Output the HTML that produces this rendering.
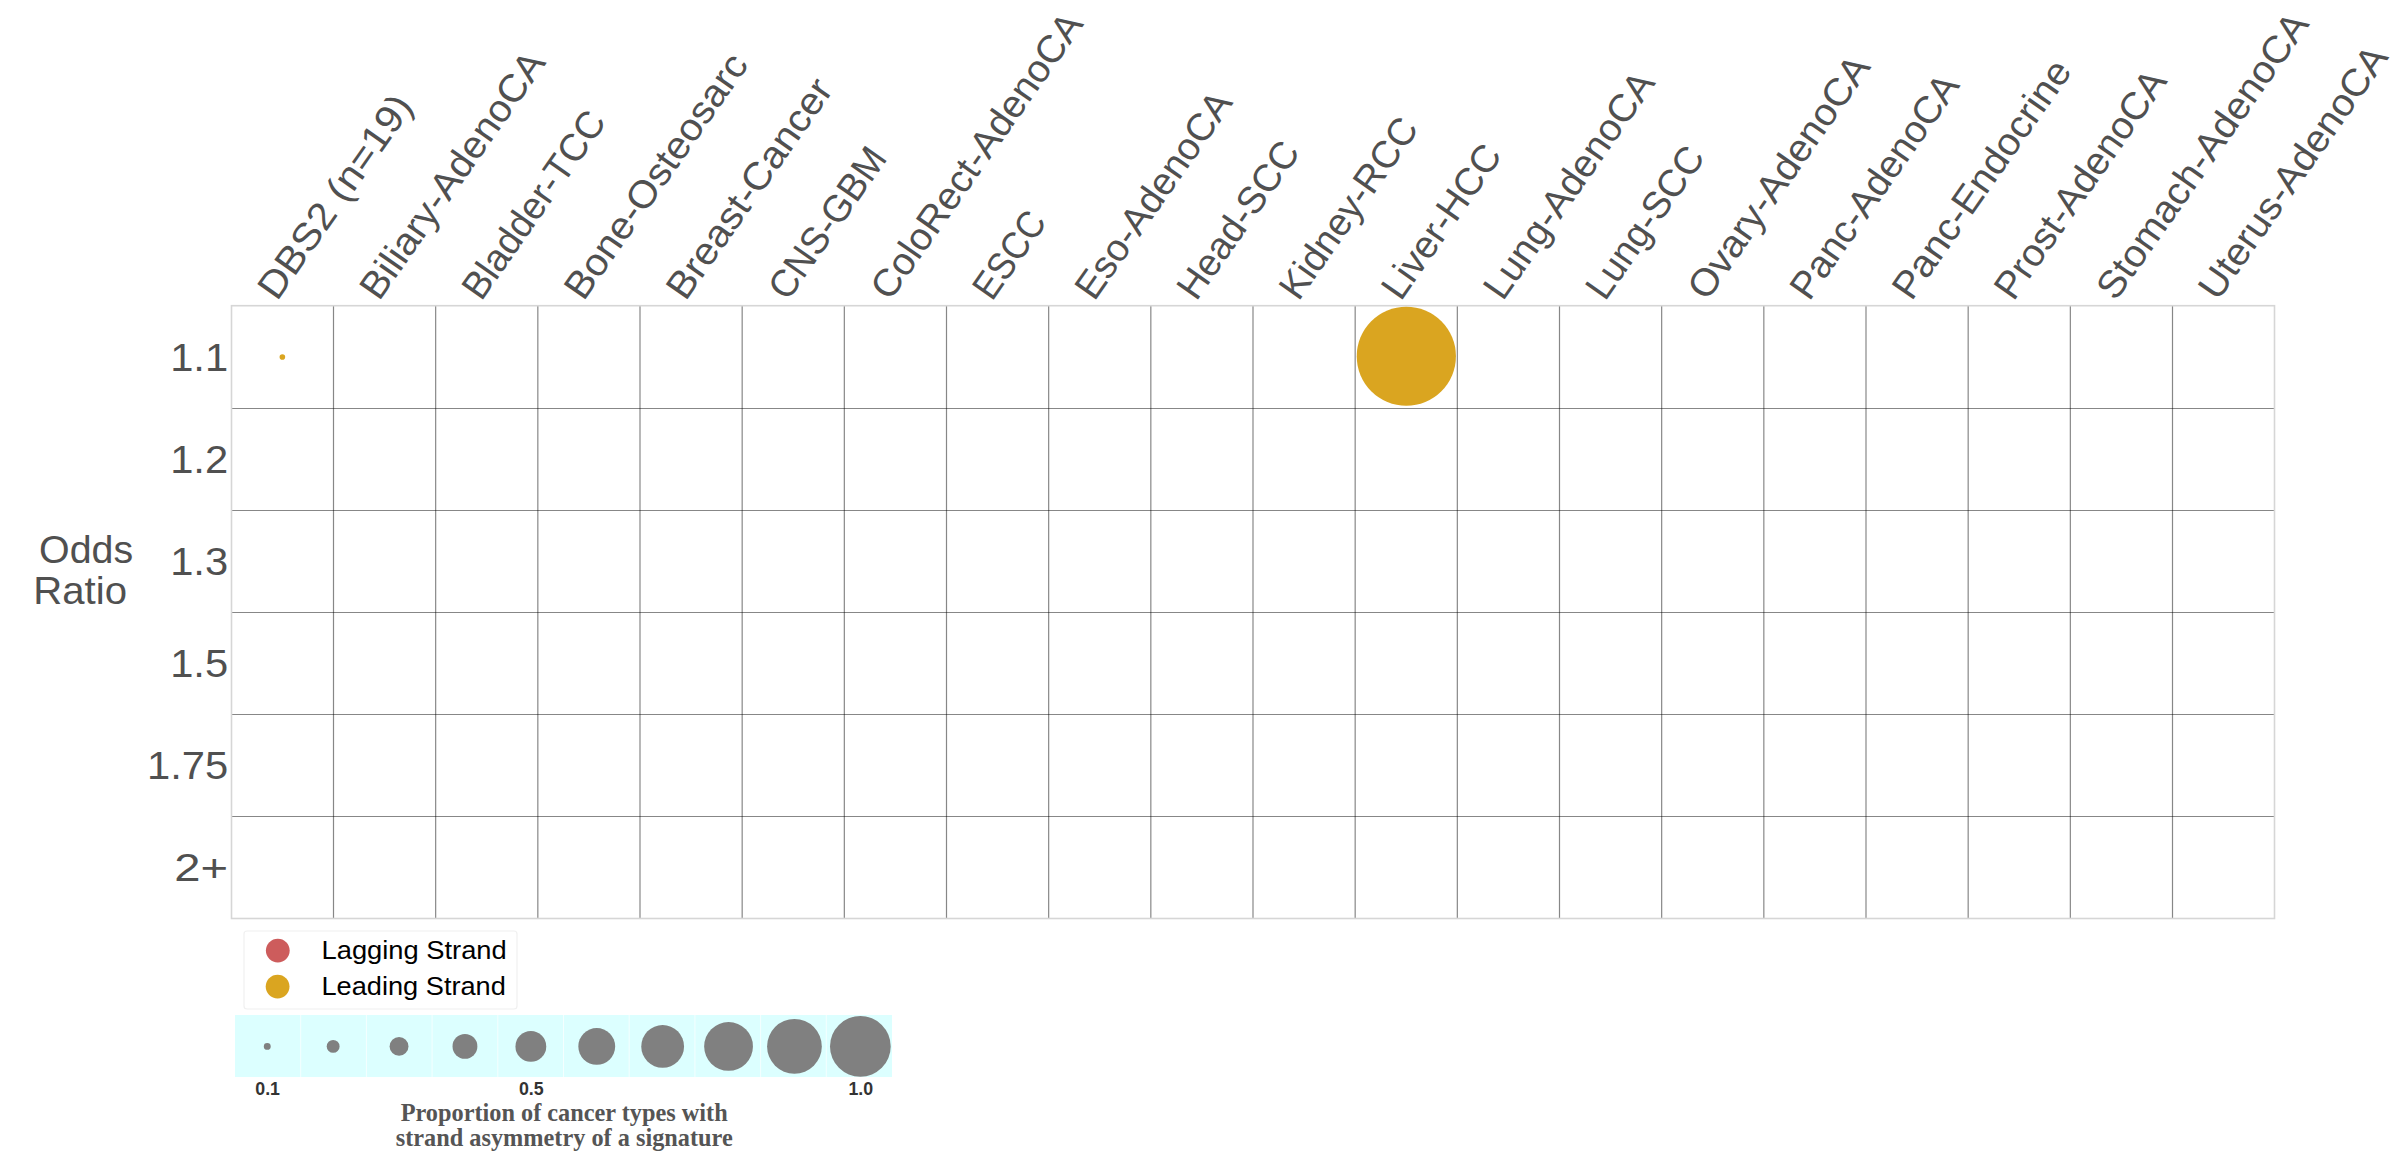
<!DOCTYPE html>
<html><head><meta charset="utf-8"><style>
html,body{margin:0;padding:0;background:#fff;width:2400px;height:1156px;overflow:hidden}
svg{display:block}
</style></head><body>
<svg width="2400" height="1156" viewBox="0 0 2400 1156">
<rect width="2400" height="1156" fill="#ffffff"/>
<g stroke="rgba(0,0,0,0.47)" stroke-width="1.2"><line x1="333.50" y1="305.5" x2="333.50" y2="918.0999999999999"/><line x1="435.66" y1="305.5" x2="435.66" y2="918.0999999999999"/><line x1="537.83" y1="305.5" x2="537.83" y2="918.0999999999999"/><line x1="640.00" y1="305.5" x2="640.00" y2="918.0999999999999"/><line x1="742.17" y1="305.5" x2="742.17" y2="918.0999999999999"/><line x1="844.33" y1="305.5" x2="844.33" y2="918.0999999999999"/><line x1="946.50" y1="305.5" x2="946.50" y2="918.0999999999999"/><line x1="1048.67" y1="305.5" x2="1048.67" y2="918.0999999999999"/><line x1="1150.83" y1="305.5" x2="1150.83" y2="918.0999999999999"/><line x1="1253.00" y1="305.5" x2="1253.00" y2="918.0999999999999"/><line x1="1355.17" y1="305.5" x2="1355.17" y2="918.0999999999999"/><line x1="1457.33" y1="305.5" x2="1457.33" y2="918.0999999999999"/><line x1="1559.50" y1="305.5" x2="1559.50" y2="918.0999999999999"/><line x1="1661.67" y1="305.5" x2="1661.67" y2="918.0999999999999"/><line x1="1763.84" y1="305.5" x2="1763.84" y2="918.0999999999999"/><line x1="1866.00" y1="305.5" x2="1866.00" y2="918.0999999999999"/><line x1="1968.17" y1="305.5" x2="1968.17" y2="918.0999999999999"/><line x1="2070.34" y1="305.5" x2="2070.34" y2="918.0999999999999"/><line x1="2172.50" y1="305.5" x2="2172.50" y2="918.0999999999999"/><line x1="231.0" y1="408.5" x2="2274.0" y2="408.5"/><line x1="231.0" y1="510.5" x2="2274.0" y2="510.5"/><line x1="231.0" y1="612.5" x2="2274.0" y2="612.5"/><line x1="231.0" y1="714.5" x2="2274.0" y2="714.5"/><line x1="231.0" y1="816.5" x2="2274.0" y2="816.5"/></g>
<rect x="231.5" y="305.7" width="2043" height="612.8" fill="none" stroke="#d6d6d6" stroke-width="1.6"/>
<circle cx="282.38" cy="356.95" r="2.8" fill="#daa520"/>
<circle cx="1406.33" cy="356.25" r="49.6" fill="#daa520"/>
<text x="276.97" y="302.00" font-family='"Liberation Sans", sans-serif' font-size="38.33" font-weight="normal" fill="#505050" text-anchor="start" textLength="239.14" lengthAdjust="spacingAndGlyphs" transform="rotate(-55.000 276.97 302.00)">DBS2 (n=19)</text>
<text x="379.12" y="302.00" font-family='"Liberation Sans", sans-serif' font-size="38.33" font-weight="normal" fill="#505050" text-anchor="start" textLength="292.04" lengthAdjust="spacingAndGlyphs" transform="rotate(-55.000 379.12 302.00)">Biliary-AdenoCA</text>
<text x="481.27" y="302.00" font-family='"Liberation Sans", sans-serif' font-size="38.33" font-weight="normal" fill="#505050" text-anchor="start" textLength="219.97" lengthAdjust="spacingAndGlyphs" transform="rotate(-55.000 481.27 302.00)">Bladder-TCC</text>
<text x="583.43" y="302.00" font-family='"Liberation Sans", sans-serif' font-size="38.33" font-weight="normal" fill="#505050" text-anchor="start" textLength="289.65" lengthAdjust="spacingAndGlyphs" transform="rotate(-55.000 583.43 302.00)">Bone-Osteosarc</text>
<text x="685.57" y="302.00" font-family='"Liberation Sans", sans-serif' font-size="38.33" font-weight="normal" fill="#505050" text-anchor="start" textLength="259.09" lengthAdjust="spacingAndGlyphs" transform="rotate(-55.000 685.57 302.00)">Breast-Cancer</text>
<text x="787.73" y="302.00" font-family='"Liberation Sans", sans-serif' font-size="38.33" font-weight="normal" fill="#505050" text-anchor="start" textLength="175.29" lengthAdjust="spacingAndGlyphs" transform="rotate(-55.000 787.73 302.00)">CNS-GBM</text>
<text x="889.88" y="302.00" font-family='"Liberation Sans", sans-serif' font-size="38.33" font-weight="normal" fill="#505050" text-anchor="start" textLength="339.09" lengthAdjust="spacingAndGlyphs" transform="rotate(-55.000 889.88 302.00)">ColoRect-AdenoCA</text>
<text x="992.02" y="302.00" font-family='"Liberation Sans", sans-serif' font-size="38.33" font-weight="normal" fill="#505050" text-anchor="start" textLength="97.21" lengthAdjust="spacingAndGlyphs" transform="rotate(-55.000 992.02 302.00)">ESCC</text>
<text x="1094.18" y="302.00" font-family='"Liberation Sans", sans-serif' font-size="38.33" font-weight="normal" fill="#505050" text-anchor="start" textLength="243.33" lengthAdjust="spacingAndGlyphs" transform="rotate(-55.000 1094.18 302.00)">Eso-AdenoCA</text>
<text x="1196.33" y="302.00" font-family='"Liberation Sans", sans-serif' font-size="38.33" font-weight="normal" fill="#505050" text-anchor="start" textLength="182.75" lengthAdjust="spacingAndGlyphs" transform="rotate(-55.000 1196.33 302.00)">Head-SCC</text>
<text x="1298.48" y="302.00" font-family='"Liberation Sans", sans-serif' font-size="38.33" font-weight="normal" fill="#505050" text-anchor="start" textLength="211.49" lengthAdjust="spacingAndGlyphs" transform="rotate(-55.000 1298.48 302.00)">Kidney-RCC</text>
<text x="1400.63" y="302.00" font-family='"Liberation Sans", sans-serif' font-size="38.33" font-weight="normal" fill="#505050" text-anchor="start" textLength="178.80" lengthAdjust="spacingAndGlyphs" transform="rotate(-55.000 1400.63 302.00)">Liver-HCC</text>
<text x="1502.78" y="302.00" font-family='"Liberation Sans", sans-serif' font-size="38.33" font-weight="normal" fill="#505050" text-anchor="start" textLength="267.37" lengthAdjust="spacingAndGlyphs" transform="rotate(-55.000 1502.78 302.00)">Lung-AdenoCA</text>
<text x="1604.93" y="302.00" font-family='"Liberation Sans", sans-serif' font-size="38.33" font-weight="normal" fill="#505050" text-anchor="start" textLength="176.45" lengthAdjust="spacingAndGlyphs" transform="rotate(-55.000 1604.93 302.00)">Lung-SCC</text>
<text x="1707.08" y="302.00" font-family='"Liberation Sans", sans-serif' font-size="38.33" font-weight="normal" fill="#505050" text-anchor="start" textLength="286.91" lengthAdjust="spacingAndGlyphs" transform="rotate(-55.000 1707.08 302.00)">Ovary-AdenoCA</text>
<text x="1809.23" y="302.00" font-family='"Liberation Sans", sans-serif' font-size="38.33" font-weight="normal" fill="#505050" text-anchor="start" textLength="264.19" lengthAdjust="spacingAndGlyphs" transform="rotate(-55.000 1809.23 302.00)">Panc-AdenoCA</text>
<text x="1911.38" y="302.00" font-family='"Liberation Sans", sans-serif' font-size="38.33" font-weight="normal" fill="#505050" text-anchor="start" textLength="281.62" lengthAdjust="spacingAndGlyphs" transform="rotate(-55.000 1911.38 302.00)">Panc-Endocrine</text>
<text x="2013.53" y="302.00" font-family='"Liberation Sans", sans-serif' font-size="38.33" font-weight="normal" fill="#505050" text-anchor="start" textLength="269.48" lengthAdjust="spacingAndGlyphs" transform="rotate(-55.000 2013.53 302.00)">Prost-AdenoCA</text>
<text x="2115.68" y="302.00" font-family='"Liberation Sans", sans-serif' font-size="38.33" font-weight="normal" fill="#505050" text-anchor="start" textLength="339.18" lengthAdjust="spacingAndGlyphs" transform="rotate(-55.000 2115.68 302.00)">Stomach-AdenoCA</text>
<text x="2217.83" y="302.00" font-family='"Liberation Sans", sans-serif' font-size="38.33" font-weight="normal" fill="#505050" text-anchor="start" textLength="298.89" lengthAdjust="spacingAndGlyphs" transform="rotate(-55.000 2217.83 302.00)">Uterus-AdenoCA</text>
<text x="170.15" y="370.70" font-family='"Liberation Sans", sans-serif' font-size="38.33" font-weight="normal" fill="#505050" text-anchor="start" textLength="58.05" lengthAdjust="spacingAndGlyphs">1.1</text>
<text x="170.15" y="472.80" font-family='"Liberation Sans", sans-serif' font-size="38.33" font-weight="normal" fill="#505050" text-anchor="start" textLength="58.05" lengthAdjust="spacingAndGlyphs">1.2</text>
<text x="170.15" y="574.90" font-family='"Liberation Sans", sans-serif' font-size="38.33" font-weight="normal" fill="#505050" text-anchor="start" textLength="58.05" lengthAdjust="spacingAndGlyphs">1.3</text>
<text x="170.15" y="677.00" font-family='"Liberation Sans", sans-serif' font-size="38.33" font-weight="normal" fill="#505050" text-anchor="start" textLength="58.05" lengthAdjust="spacingAndGlyphs">1.5</text>
<text x="146.93" y="779.10" font-family='"Liberation Sans", sans-serif' font-size="38.33" font-weight="normal" fill="#505050" text-anchor="start" textLength="81.27" lengthAdjust="spacingAndGlyphs">1.75</text>
<text x="174.39" y="881.20" font-family='"Liberation Sans", sans-serif' font-size="38.33" font-weight="normal" fill="#505050" text-anchor="start" textLength="53.81" lengthAdjust="spacingAndGlyphs">2+</text>
<text x="39.10" y="563.25" font-family='"Liberation Sans", sans-serif' font-size="38.33" font-weight="normal" fill="#505050" text-anchor="start" textLength="94.08" lengthAdjust="spacingAndGlyphs">Odds</text>
<text x="33.30" y="604.30" font-family='"Liberation Sans", sans-serif' font-size="38.33" font-weight="normal" fill="#505050" text-anchor="start" textLength="93.71" lengthAdjust="spacingAndGlyphs">Ratio</text>
<rect x="244" y="931" width="273" height="78" rx="3" ry="3" fill="#ffffff" stroke="#f0f0f0" stroke-width="1.2"/>
<circle cx="277.8" cy="950.6" r="11.9" fill="#cd5c5c"/>
<circle cx="277.6" cy="986.6" r="11.9" fill="#daa520"/>
<text x="321.50" y="959.00" font-family='"Liberation Sans", sans-serif' font-size="25.52" font-weight="normal" fill="#000000" text-anchor="start" textLength="185.24" lengthAdjust="spacingAndGlyphs">Lagging Strand</text>
<text x="321.50" y="995.00" font-family='"Liberation Sans", sans-serif' font-size="25.52" font-weight="normal" fill="#000000" text-anchor="start" textLength="184.34" lengthAdjust="spacingAndGlyphs">Leading Strand</text>
<rect x="235.0" y="1015.0" width="657.00" height="62.0" fill="#dcffff"/>
<line x1="300.70" y1="1015.0" x2="300.70" y2="1077.0" stroke="#f4ffff" stroke-width="1"/>
<line x1="366.40" y1="1015.0" x2="366.40" y2="1077.0" stroke="#f4ffff" stroke-width="1"/>
<line x1="432.10" y1="1015.0" x2="432.10" y2="1077.0" stroke="#f4ffff" stroke-width="1"/>
<line x1="497.80" y1="1015.0" x2="497.80" y2="1077.0" stroke="#f4ffff" stroke-width="1"/>
<line x1="563.50" y1="1015.0" x2="563.50" y2="1077.0" stroke="#f4ffff" stroke-width="1"/>
<line x1="629.20" y1="1015.0" x2="629.20" y2="1077.0" stroke="#f4ffff" stroke-width="1"/>
<line x1="694.90" y1="1015.0" x2="694.90" y2="1077.0" stroke="#f4ffff" stroke-width="1"/>
<line x1="760.60" y1="1015.0" x2="760.60" y2="1077.0" stroke="#f4ffff" stroke-width="1"/>
<line x1="826.30" y1="1015.0" x2="826.30" y2="1077.0" stroke="#f4ffff" stroke-width="1"/>
<circle cx="267.25" cy="1046.4" r="3.45" fill="#808080"/>
<circle cx="333.15" cy="1046.4" r="6.44" fill="#808080"/>
<circle cx="399.05" cy="1046.4" r="9.43" fill="#808080"/>
<circle cx="464.95" cy="1046.4" r="12.42" fill="#808080"/>
<circle cx="530.85" cy="1046.4" r="15.41" fill="#808080"/>
<circle cx="596.75" cy="1046.4" r="18.40" fill="#808080"/>
<circle cx="662.65" cy="1046.4" r="21.39" fill="#808080"/>
<circle cx="728.55" cy="1046.4" r="24.38" fill="#808080"/>
<circle cx="794.45" cy="1046.4" r="27.37" fill="#808080"/>
<circle cx="860.35" cy="1046.4" r="30.36" fill="#808080"/>
<text x="267.65" y="1094.6" font-family='"Liberation Sans", sans-serif' font-size="17.8" font-weight="bold" fill="#333333" text-anchor="middle">0.1</text>
<text x="531.25" y="1094.6" font-family='"Liberation Sans", sans-serif' font-size="17.8" font-weight="bold" fill="#333333" text-anchor="middle">0.5</text>
<text x="860.75" y="1094.6" font-family='"Liberation Sans", sans-serif' font-size="17.8" font-weight="bold" fill="#333333" text-anchor="middle">1.0</text>
<text x="564.2" y="1121.3" font-family='"Liberation Serif", serif' font-size="24.3" font-weight="bold" fill="#555555" text-anchor="middle">Proportion of cancer types with</text>
<text x="564.2" y="1146.3" font-family='"Liberation Serif", serif' font-size="24.3" font-weight="bold" fill="#555555" text-anchor="middle">strand asymmetry of a signature</text>
</svg>
</body></html>
